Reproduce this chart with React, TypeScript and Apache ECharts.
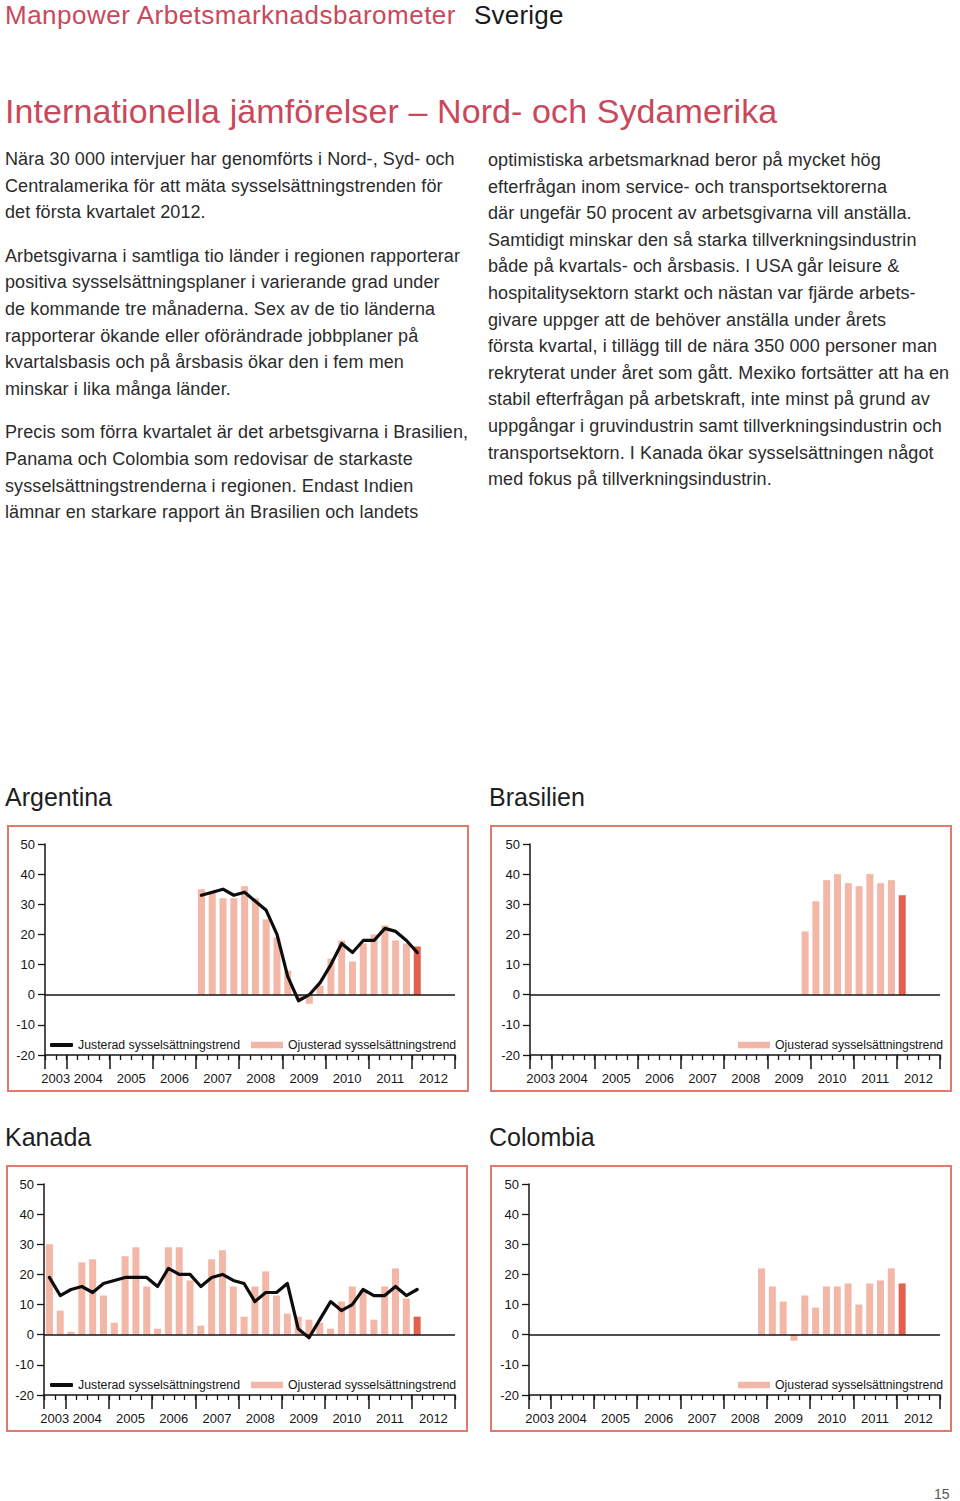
import React, { useEffect, useRef } from 'react';
import * as echarts from 'echarts';

// ---------- data ----------
const QUARTERS = [
  '2003 Q3', '2003 Q4',
  '2004 Q1', '2004 Q2', '2004 Q3', '2004 Q4',
  '2005 Q1', '2005 Q2', '2005 Q3', '2005 Q4',
  '2006 Q1', '2006 Q2', '2006 Q3', '2006 Q4',
  '2007 Q1', '2007 Q2', '2007 Q3', '2007 Q4',
  '2008 Q1', '2008 Q2', '2008 Q3', '2008 Q4',
  '2009 Q1', '2009 Q2', '2009 Q3', '2009 Q4',
  '2010 Q1', '2010 Q2', '2010 Q3', '2010 Q4',
  '2011 Q1', '2011 Q2', '2011 Q3', '2011 Q4',
  '2012 Q1', '2012 Q2', '2012 Q3', '2012 Q4',
];
const YEARS = ['2003', '2004', '2005', '2006', '2007', '2008', '2009', '2010', '2011', '2012'];
const Y_TICKS = { min: -20, max: 50, step: 10 };

const argentinaStart = '2007 Q1';
const argentinaJusterad = [33, 34, 35, 33, 34, 31, 28, 20, 6, -2, 0, 4, 10, 17, 14, 18, 18, 22, 21, 18, 14];
const argentinaOjusterad = [35, 34, 32, 32, 36, 32, 25, 19, 8, -1, -3, 3, 12, 18, 11, 17, 20, 23, 18, 17, 16];

const brasilienStart = '2009 Q4';
const brasilienOjusterad = [21, 31, 38, 40, 37, 36, 40, 37, 38, 33];

const kanadaStart = '2003 Q3';
const kanadaJusterad = [19, 13, 15, 16, 14, 17, 18, 19, 19, 19, 16, 22, 20, 20, 16, 19, 20, 18, 17, 11, 14, 14, 17, 2, -1, 5, 11, 8, 10, 15, 13, 13, 16, 13, 15];
const kanadaOjusterad = [30, 8, 1, 24, 25, 13, 4, 26, 29, 16, 2, 29, 29, 18, 3, 25, 28, 16, 6, 16, 21, 13, 7, 6, 5, 4, 2, 11, 16, 15, 5, 16, 22, 12, 6];

const colombiaStart = '2008 Q4';
const colombiaOjusterad = [22, 16, 11, -2, 13, 9, 16, 16, 17, 10, 17, 18, 22, 17];

const J_NAME = 'Justerad sysselsättningstrend';
const O_NAME = 'Ojusterad sysselsättningstrend';

// ---------- style ----------
const FONT = "'Liberation Sans', Arial, Helvetica, sans-serif";
const RED_TEXT = '#c9485b';
const BAR = '#f2b7a6';
const BAR_LAST = '#e2614d';
const BOX = '#e07a6b';
const INK = '#161616';
const BODY = '#2b2b2b';

const PANELS = [
  { title: 'Argentina', start: argentinaStart, bars: argentinaOjusterad, line: argentinaJusterad,
    titleLeft: 5, titleTop: 784, grid: { left: 45, top: 844, width: 410, height: 211 },
    box: { x: 8, y: 826, width: 460, height: 265 }, legendJLeft: 50, legendOLeft: 251, legendTop: 1038 },
  { title: 'Brasilien', start: brasilienStart, bars: brasilienOjusterad, line: null,
    titleLeft: 489, titleTop: 784, grid: { left: 530, top: 844, width: 410, height: 211 },
    box: { x: 491, y: 826, width: 460, height: 265 }, legendJLeft: 0, legendOLeft: 738, legendTop: 1038 },
  { title: 'Kanada', start: kanadaStart, bars: kanadaOjusterad, line: kanadaJusterad,
    titleLeft: 5, titleTop: 1124, grid: { left: 44, top: 1184, width: 411, height: 211 },
    box: { x: 7, y: 1166, width: 460, height: 265 }, legendJLeft: 50, legendOLeft: 251, legendTop: 1378 },
  { title: 'Colombia', start: colombiaStart, bars: colombiaOjusterad, line: null,
    titleLeft: 489, titleTop: 1124, grid: { left: 529, top: 1184, width: 411, height: 211 },
    box: { x: 491, y: 1166, width: 460, height: 265 }, legendJLeft: 0, legendOLeft: 738, legendTop: 1378 },
];

const LEFT_PARAS = [
  [
    'Nära 30 000 intervjuer har genomförts i Nord-, Syd- och',
    'Centralamerika för att mäta sysselsättningstrenden för',
    'det första kvartalet 2012.',
  ],
  [
    'Arbetsgivarna i samtliga tio länder i regionen rapporterar',
    'positiva sysselsättningsplaner i varierande grad under',
    'de kommande tre månaderna. Sex av de tio länderna',
    'rapporterar ökande eller oförändrade jobbplaner på',
    'kvartalsbasis och på årsbasis ökar den i fem men',
    'minskar i lika många länder.',
  ],
  [
    'Precis som förra kvartalet är det arbetsgivarna i Brasilien,',
    'Panama och Colombia som redovisar de starkaste',
    'sysselsättningstrenderna i regionen. Endast Indien',
    'lämnar en starkare rapport än Brasilien och landets',
  ],
];
const RIGHT_PARAS = [
  [
    'optimistiska arbetsmarknad beror på mycket hög',
    'efterfrågan inom service- och transportsektorerna',
    'där ungefär 50 procent av arbetsgivarna vill anställa.',
    'Samtidigt minskar den så starka tillverkningsindustrin',
    'både på kvartals- och årsbasis. I USA går leisure &',
    'hospitalitysektorn starkt och nästan var fjärde arbets-',
    'givare uppger att de behöver anställa under årets',
    'första kvartal, i tillägg till de nära 350 000 personer man',
    'rekryterat under året som gått. Mexiko fortsätter att ha en',
    'stabil efterfrågan på arbetskraft, inte minst på grund av',
    'uppgångar i gruvindustrin samt tillverkningsindustrin och',
    'transportsektorn. I Kanada ökar sysselsättningen något',
    'med fokus på tillverkningsindustrin.',
  ],
];

// year boundaries and year label centres (in quarter units)
const YEAR_BOUNDS: number[] = [0];
QUARTERS.forEach((q, i) => { if (i > 0 && q.endsWith('Q1')) YEAR_BOUNDS.push(i); });
YEAR_BOUNDS.push(QUARTERS.length);
const YEAR_CENTERS = YEARS.map((y) => {
  const idx = QUARTERS.map((q, i) => (q.startsWith(y) ? i : -1)).filter((i) => i >= 0);
  return (idx[0] + idx[idx.length - 1] + 1) / 2;
});

function pts(start: string, values: number[]) {
  const s = QUARTERS.indexOf(start);
  return values.map((v, i) => [s + i + 0.5, v]);
}

function buildOption() {
  const grid: any[] = [];
  const xAxis: any[] = [];
  const yAxis: any[] = [];
  const series: any[] = [];
  const legend: any[] = [];
  const title: any[] = [];
  const graphic: any[] = [];
  const N = QUARTERS.length;

  PANELS.forEach((p, i) => {
    grid.push({ ...p.grid, outerBoundsMode: 'none' });
    title.push({
      text: p.title, left: p.titleLeft, top: p.titleTop, padding: 0,
      textStyle: { fontFamily: FONT, fontSize: 25, fontWeight: 'normal', color: '#1e1e1e' },
    });
    graphic.push({
      type: 'rect', silent: true,
      shape: { x: p.box.x, y: p.box.y, width: p.box.width, height: p.box.height },
      style: { fill: 'none', stroke: BOX, lineWidth: 2 },
    });
    // minor quarter ticks, used by the series
    xAxis.push({
      type: 'value', gridIndex: i, min: 0, max: N, interval: 1, position: 'bottom',
      axisLine: { show: true, onZero: false, lineStyle: { color: INK, width: 1.5 } },
      axisTick: { show: true, length: 5, lineStyle: { color: INK, width: 1.3 } },
      axisLabel: { show: false }, splitLine: { show: false },
    });
    // major year ticks and year labels
    xAxis.push({
      type: 'value', gridIndex: i, min: 0, max: N, position: 'bottom',
      axisLine: { show: false, onZero: false },
      axisTick: { show: true, length: 14, customValues: YEAR_BOUNDS, lineStyle: { color: INK, width: 1.5 } },
      axisLabel: {
        show: true, customValues: YEAR_CENTERS, margin: 16.5, fontSize: 13, color: INK, fontFamily: FONT,
        formatter: (v: number) => {
          const k = YEAR_CENTERS.findIndex((c) => Math.abs(c - v) < 0.01);
          return k >= 0 ? YEARS[k] : '';
        },
      },
      splitLine: { show: false },
    });
    yAxis.push({
      type: 'value', gridIndex: i, min: Y_TICKS.min, max: Y_TICKS.max, interval: Y_TICKS.step,
      axisLine: { show: true, lineStyle: { color: INK, width: 1.5 } },
      axisTick: { show: true, length: 7, lineStyle: { color: INK, width: 1.3 } },
      axisLabel: { margin: 10, fontSize: 13, color: INK, fontFamily: FONT },
      splitLine: { show: false },
    });
    const barPts = pts(p.start, p.bars);
    series.push({
      type: 'bar', name: O_NAME, xAxisIndex: 2 * i, yAxisIndex: i, barWidth: 7,
      itemStyle: { color: BAR },
      data: barPts.map((d, k) => (k === barPts.length - 1 ? { value: d, itemStyle: { color: BAR_LAST } } : { value: d })),
      markLine: {
        silent: true, symbol: ['none', 'none'], label: { show: false },
        lineStyle: { color: INK, width: 1.5, type: 'solid' }, data: [{ yAxis: 0 }],
      },
    });
    if (p.line) {
      series.push({
        type: 'line', name: J_NAME, xAxisIndex: 2 * i, yAxisIndex: i, symbol: 'none',
        lineStyle: { color: '#0d0d0d', width: 3.2, cap: 'round', join: 'round' },
        itemStyle: { color: '#0d0d0d' },
        data: pts(p.start, p.line),
      });
      legend.push({
        data: [{ name: J_NAME, icon: 'roundRect' }], left: p.legendJLeft, top: p.legendTop, padding: 0,
        itemWidth: 23, itemHeight: 4, itemGap: 6, selectedMode: false,
        textStyle: { fontFamily: FONT, fontSize: 12.3, color: INK, lineHeight: 14 },
      });
    }
    legend.push({
      data: [{ name: O_NAME, icon: 'rect' }], left: p.legendOLeft, top: p.legendTop, padding: 0,
      itemWidth: 32, itemHeight: 6.5, selectedMode: false,
      textStyle: { fontFamily: FONT, fontSize: 12.3, color: INK, lineHeight: 14 },
    });
  });

  return { animation: false, title, grid, xAxis, yAxis, series, legend, graphic };
}

function Paras({ paras, left, top }: { paras: string[][]; left: number; top: number }) {
  return (
    <div style={{
      position: 'absolute', left, top, fontFamily: FONT, fontSize: 18, letterSpacing: 0.1,
      lineHeight: '26.6px', color: BODY, whiteSpace: 'nowrap',
    }}>
      {paras.map((lines, i) => (
        <div key={i} style={{ marginBottom: 17 }}>
          {lines.map((l, j) => (
            <div key={j}>{l}</div>
          ))}
        </div>
      ))}
    </div>
  );
}

export default function App() {
  const ref = useRef<HTMLDivElement>(null);
  useEffect(() => {
    if (!ref.current) return;
    const chart = echarts.init(ref.current, undefined, { renderer: 'svg' });
    chart.setOption(buildOption() as any);
    return () => chart.dispose();
  }, []);

  return (
    <div style={{ position: 'absolute', left: 0, top: 0, width: 960, height: 1501, background: '#fff', overflow: 'hidden' }}>
      <div ref={ref} style={{ position: 'absolute', left: 0, top: 0, width: 960, height: 1501 }} />
      <div style={{ position: 'absolute', left: 5, top: 0, fontFamily: FONT, fontSize: 26, lineHeight: '30px', color: RED_TEXT, whiteSpace: 'nowrap', letterSpacing: 0.5 }}>
        Manpower Arbetsmarknadsbarometer
      </div>
      <div style={{ position: 'absolute', left: 474, top: 0, fontFamily: FONT, fontSize: 26, lineHeight: '30px', color: '#1a1a1a', whiteSpace: 'nowrap', letterSpacing: 0.2 }}>
        Sverige
      </div>
      <div style={{ position: 'absolute', left: 5, top: 93, fontFamily: FONT, fontSize: 34, lineHeight: '36px', color: RED_TEXT, whiteSpace: 'nowrap', letterSpacing: 0.1 }}>
        Internationella jämförelser – Nord- och Sydamerika
      </div>
      <Paras paras={LEFT_PARAS} left={5} top={146} />
      <Paras paras={RIGHT_PARAS} left={488} top={147} />
      <div style={{ position: 'absolute', left: 934, top: 1487, fontFamily: FONT, fontSize: 14, lineHeight: '14px', color: '#555' }}>
        15
      </div>
    </div>
  );
}
